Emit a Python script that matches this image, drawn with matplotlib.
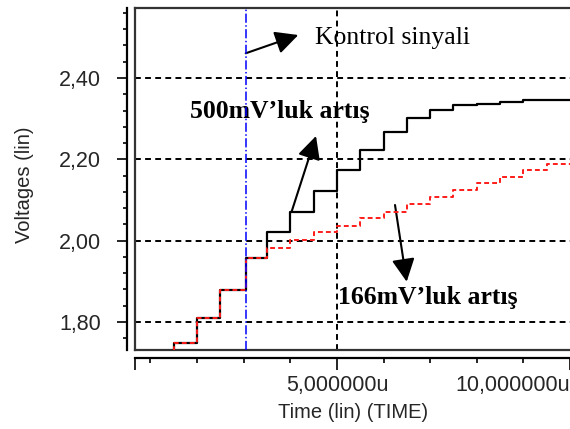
import matplotlib
matplotlib.use('Agg')
import matplotlib.pyplot as plt
from matplotlib.ticker import MultipleLocator

plt.rcParams['font.family'] = ['Liberation Sans', 'DejaVu Sans']

# time in microseconds, step values in volts
t_us = [1.0, 1.5, 2.0, 2.5, 3.05, 3.5, 4.0, 4.5, 5.0, 5.5, 6.0, 6.5,
        7.0, 7.5, 8.0, 8.5, 9.0, 9.5, 10.0]
v_500 = [1.69, 1.749, 1.811, 1.879, 1.957, 2.021, 2.070, 2.123, 2.174, 2.223,
         2.268, 2.302, 2.321, 2.334, 2.337, 2.340, 2.346, 2.347, 2.347]
v_166 = [1.69, 1.749, 1.811, 1.879, 1.957, 1.981, 2.001, 2.022, 2.036, 2.055,
         2.070, 2.090, 2.107, 2.125, 2.141, 2.157, 2.174, 2.189, 2.189]
control_t = 3.05

y_ticks = [1.80, 2.00, 2.20, 2.40]
y_labels = ['1,80', '2,00', '2,20', '2,40']
x_lim = (0.668, 10.0)
x_ticks = [x_lim[0], 5.0, 10.0]
x_labels = ['', '5,000000u', '10,000000u']
x_grid = [5.0]

W, H = 570, 429
txt_col = '#262626'

fig = plt.figure(figsize=(W / 100, H / 100), dpi=100)
ax = fig.add_axes([135 / W, 1 - 350 / H, 1 - 135 / W, (350 - 8) / H])

ax.step(t_us, v_500, where='post', color='black', lw=1.6, zorder=3)
ax.step(t_us, v_166, where='post', color='#ff1a1a', lw=1.4,
        ls=(0, (2.5, 1.6)), zorder=4)
ax.axvline(control_t, color='#0000ff', lw=1.1, ls=(0, (6, 1.6, 1, 1.6)), zorder=5)

ax.set_xlim(*x_lim)
ax.set_ylim(1.7312, 2.5721)
ax.set_xticks(x_grid)
ax.set_yticks(y_ticks)
ax.tick_params(which='both', length=0, labelleft=False, labelbottom=False)
ax.grid(True, color='black', lw=1.4, ls=(0, (3.0, 2.2)))
ax.set_axisbelow(True)
for s in ['top', 'left', 'bottom']:
    ax.spines[s].set_linewidth(1.6)
    ax.spines[s].set_color('#333333')
ax.spines['right'].set_visible(False)

# PSpice style axes drawn a little apart from the plot box
secy = ax.secondary_yaxis(-8 / 435)
secy.set_yticks(y_ticks, labels=y_labels)
secy.yaxis.set_minor_locator(MultipleLocator(0.04))
secy.tick_params(which='major', length=7.5, width=1.2, pad=11,
                 labelsize=15.5, labelcolor=txt_col)
secy.tick_params(which='minor', length=3.2, width=1.2)
for sp in secy.spines.values():
    sp.set_linewidth(1.6)

secx = ax.secondary_xaxis(-7.5 / 342)
secx.set_xticks(x_ticks, labels=x_labels)
secx.xaxis.set_minor_locator(MultipleLocator(1.0))
secx.tick_params(which='major', length=8.6, width=1.2, pad=4,
                 labelsize=15.5, labelcolor=txt_col)
secx.tick_params(which='minor', length=3.6, width=1.2)
for sp in secx.spines.values():
    sp.set_linewidth(1.6)
secx.get_xticklabels()[-1].set_horizontalalignment('right')

fig.text(353 / W, 1 - 412.7 / H, 'Time (lin) (TIME)', ha='center', va='center',
         fontsize=14.5, color=txt_col)
fig.text(25 / W, 1 - 185 / H, 'Voltages (lin)', ha='center', va='center',
         rotation=90, fontsize=14.5, color=txt_col)


def px(x, y):
    return (x, H - y)


arrow = dict(arrowstyle='-|>,head_length=1.0,head_width=0.5', mutation_scale=14,
             lw=1.5, color='black', shrinkA=0, shrinkB=0)
ax.annotate('', xy=px(298.3, 35), xytext=px(245.7, 53.3),
            xycoords='figure pixels', textcoords='figure pixels', arrowprops=arrow)
ax.annotate('', xy=px(316, 136), xytext=px(291.5, 212),
            xycoords='figure pixels', textcoords='figure pixels', arrowprops=arrow)
ax.annotate('', xy=px(406.7, 281.7), xytext=px(395, 205),
            xycoords='figure pixels', textcoords='figure pixels', arrowprops=arrow)

ax.annotate('Kontrol sinyali', xy=px(315, 44), xycoords='figure pixels',
            ha='left', va='baseline', fontsize=18.5, family='Liberation Serif')
ax.annotate('500mV\u2019luk art\u0131\u015f', xy=px(190, 118), xycoords='figure pixels',
            ha='left', va='baseline', fontsize=18.5, fontweight='bold',
            family='Liberation Serif')
ax.annotate('166mV\u2019luk art\u0131\u015f', xy=px(338, 304), xycoords='figure pixels',
            ha='left', va='baseline', fontsize=18.5, fontweight='bold',
            family='Liberation Serif')

fig.savefig('out.png', dpi=100)
